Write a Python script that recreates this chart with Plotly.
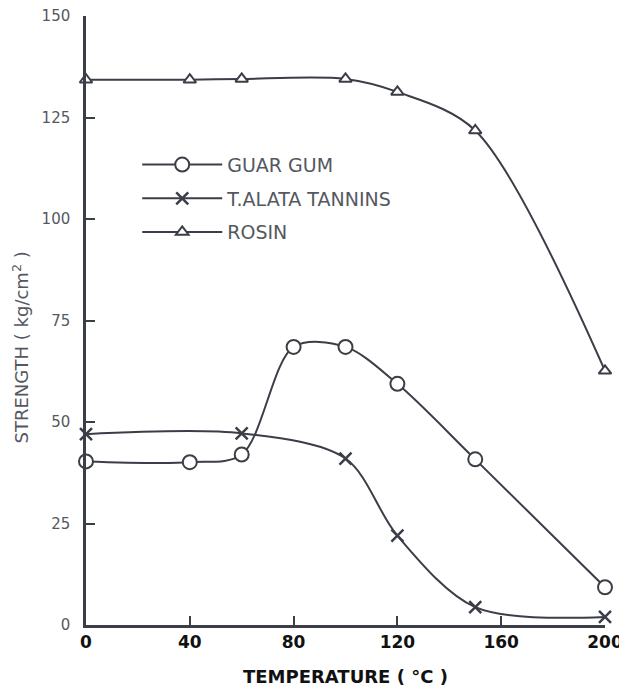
import plotly.graph_objects as go

# Data
guar_temp = [0, 40, 60, 80, 100, 120, 150, 200]
guar_strength = [40.3, 40.1, 42.0, 68.5, 68.5, 59.4, 40.8, 9.3]

tannin_temp = [0, 60, 100, 120, 150, 200]
tannin_strength = [47.0, 47.2, 41.0, 22.0, 4.4, 2.0]

rosin_temp = [0, 40, 60, 100, 120, 150, 200]
rosin_strength = [134.3, 134.3, 134.5, 134.5, 131.3, 121.8, 62.6]

x_ticks = [0, 40, 80, 120, 160, 200]
y_ticks = [0, 25, 50, 75, 100, 125, 150]

INK = "#3b3e47"
GRAY = "#55585f"

fig = go.Figure()

fig.add_trace(go.Scatter(
    x=guar_temp, y=guar_strength, name="GUAR GUM", mode="lines+markers",
    line=dict(color=INK, width=2, shape="spline", smoothing=0.9),
    marker=dict(symbol="circle", size=14, color="white", line=dict(color=INK, width=2)),
    cliponaxis=False, legendgroup="g1"))

fig.add_trace(go.Scatter(
    x=tannin_temp, y=tannin_strength, name="T.ALATA TANNINS", mode="lines+markers",
    line=dict(color=INK, width=2, shape="spline", smoothing=0.9),
    marker=dict(symbol="x-thin", size=12, color=INK, line=dict(color=INK, width=2.5)),
    cliponaxis=False, legendgroup="g2"))

fig.add_trace(go.Scatter(
    x=rosin_temp, y=rosin_strength, name="ROSIN", mode="lines+markers",
    line=dict(color=INK, width=2, shape="spline", smoothing=0.9),
    marker=dict(symbol="triangle-up", size=11, color="white", line=dict(color=INK, width=2)),
    cliponaxis=False, legendgroup="g3"))

fig.update_layout(
    template="none",
    width=619, height=685,
    margin=dict(l=78, r=22, t=8, b=68, autoexpand=False),
    paper_bgcolor="white", plot_bgcolor="white",
    showlegend=True,
    legend=dict(
        x=0.0987, y=0.787, xanchor="left", yanchor="top",
        bgcolor="rgba(0,0,0,0)", borderwidth=0,
        font=dict(family="DejaVu Sans", size=19, color=GRAY),
        itemwidth=80, tracegroupgap=6,
    ),
    xaxis=dict(
        range=[0, 200], tickmode="array", tickvals=x_ticks,
        ticktext=[str(v) for v in x_ticks],
        showline=True, linecolor=INK, linewidth=2.5,
        ticks="inside", ticklen=9, tickwidth=2, tickcolor=INK,
        showgrid=False, zeroline=False, automargin=False,
        ticklabeloverflow="allow",
        tickfont=dict(family="DejaVu Sans", size=17, color="#111111", weight="bold"),
    ),
    yaxis=dict(
        range=[0, 150], tickmode="array", tickvals=y_ticks,
        ticktext=[str(v) for v in y_ticks],
        showline=True, linecolor=INK, linewidth=2.5,
        ticks="inside", ticklen=9, tickwidth=2, tickcolor=INK,
        showgrid=False, zeroline=False, automargin=False,
        ticklabeloverflow="allow",
        tickfont=dict(family="DejaVu Sans", size=15, color=GRAY),
        ticklabelstandoff=10,
    ),
    annotations=[
        dict(text="<b>TEMPERATURE ( °C )</b>", xref="paper", yref="paper",
             x=0.5, y=-0.085, xanchor="center", yanchor="middle", showarrow=False,
             font=dict(family="DejaVu Sans", size=18, color="#111111")),
        dict(text="STRENGTH ( kg/cm<sup>2</sup> )", xref="paper", yref="paper",
             x=-0.126, y=0.455, xanchor="center", yanchor="middle", showarrow=False,
             textangle=-90,
             font=dict(family="DejaVu Sans", size=18, color=GRAY)),
    ],
)

fig.write_html("out.html")
